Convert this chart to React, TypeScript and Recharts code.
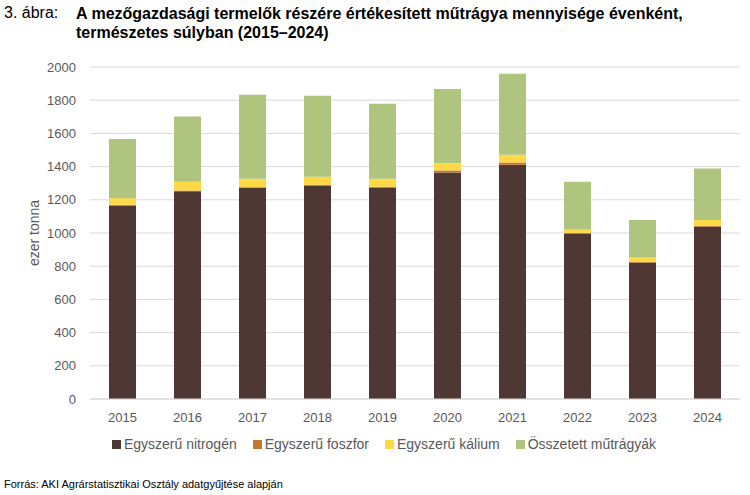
import * as React from "react";
import { BarChart, Bar, XAxis, YAxis, CartesianGrid } from "recharts";

const EVEK = ["2015", "2016", "2017", "2018", "2019", "2020", "2021", "2022", "2023", "2024"];
const NITROGEN = [1166, 1252, 1272, 1286, 1274, 1365, 1411, 997, 822, 1039];
const FOSZFOR = [4, 4, 4, 4, 4, 12, 14, 4, 3, 5];
const KALIUM = [40, 53, 51, 49, 49, 44, 46, 20, 27, 34];
const OSSZETETT = [356, 393, 506, 488, 452, 446, 489, 288, 226, 311];
const Y_TICKS = [0, 200, 400, 600, 800, 1000, 1200, 1400, 1600, 1800, 2000];

const FONT = '"Liberation Sans", Arial, sans-serif';
const TEXT_GRAY = "#595959";
const GRID = "#d9d9d9";

const SERIES = [
  { key: "nitrogen", name: "Egyszerű nitrogén", color: "#4f3833" },
  { key: "foszfor", name: "Egyszerű foszfor", color: "#c7782f" },
  { key: "kalium", name: "Egyszerű kálium", color: "#ffd845" },
  { key: "osszetett", name: "Összetett műtrágyák", color: "#afc47d" },
];

export default function App(): React.ReactElement {
  const data = EVEK.map((ev, i) => ({
    ev,
    nitrogen: NITROGEN[i],
    foszfor: FOSZFOR[i],
    kalium: KALIUM[i],
    osszetett: OSSZETETT[i],
  }));

  return (
    <div
      style={{
        position: "absolute",
        left: 0,
        top: 0,
        width: 750,
        height: 495,
        background: "#fff",
        fontFamily: FONT,
        overflow: "hidden",
      }}
    >
      <div style={{ position: "absolute", left: 4, top: 4, fontSize: 16, color: "#000" }}>3. ábra:</div>
      <div
        style={{
          position: "absolute",
          left: 76,
          top: 4,
          fontSize: 16,
          fontWeight: "bold",
          color: "#000",
          lineHeight: "19px",
        }}
      >
        A mezőgazdasági termelők részére értékesített műtrágya mennyisége évenként,
        <br />
        természetes súlyban (2015–2024)
      </div>

      <div style={{ position: "absolute", left: 0, top: 0 }}>
        <BarChart
          width={750}
          height={430}
          data={data}
          margin={{ top: 67, right: 10, bottom: 0, left: 0 }}
          barSize={27}
        >
          <CartesianGrid vertical={false} stroke={GRID} />
          <XAxis
            dataKey="ev"
            tickLine={false}
            axisLine={{ stroke: GRID }}
            tick={{ fill: TEXT_GRAY, fontSize: 13, fontFamily: FONT }}
            tickMargin={8}
            height={31}
          />
          <YAxis
            width={90}
            domain={[0, 2000]}
            ticks={Y_TICKS}
            tickLine={false}
            axisLine={false}
            tickSize={0}
            tickMargin={14}
            tick={{ fill: TEXT_GRAY, fontSize: 13, fontFamily: FONT }}
            label={{
              value: "ezer tonna",
              angle: -90,
              position: "insideLeft",
              offset: 34,
              style: { fill: TEXT_GRAY, fontSize: 14, fontFamily: FONT, textAnchor: "middle" },
            }}
          />
          {SERIES.map((s) => (
            <Bar
              key={s.key}
              dataKey={s.key}
              name={s.name}
              stackId="a"
              fill={s.color}
              isAnimationActive={false}
            />
          ))}
        </BarChart>
      </div>

      <div
        style={{
          position: "absolute",
          left: 0,
          top: 436,
          width: 750,
          display: "flex",
          justifyContent: "center",
          gap: 16,
          fontSize: 14,
          color: TEXT_GRAY,
          paddingLeft: 18,
          boxSizing: "border-box",
        }}
      >
        {SERIES.map((s) => (
          <div key={s.key} style={{ display: "flex", alignItems: "center" }}>
            <span style={{ display: "inline-block", width: 9, height: 9, background: s.color, marginRight: 3 }} />
            {s.name}
          </div>
        ))}
      </div>

      <div style={{ position: "absolute", left: 4, top: 478, fontSize: 11, color: "#000" }}>
        Forrás: AKI Agrárstatisztikai Osztály adatgyűjtése alapján
      </div>
    </div>
  );
}
